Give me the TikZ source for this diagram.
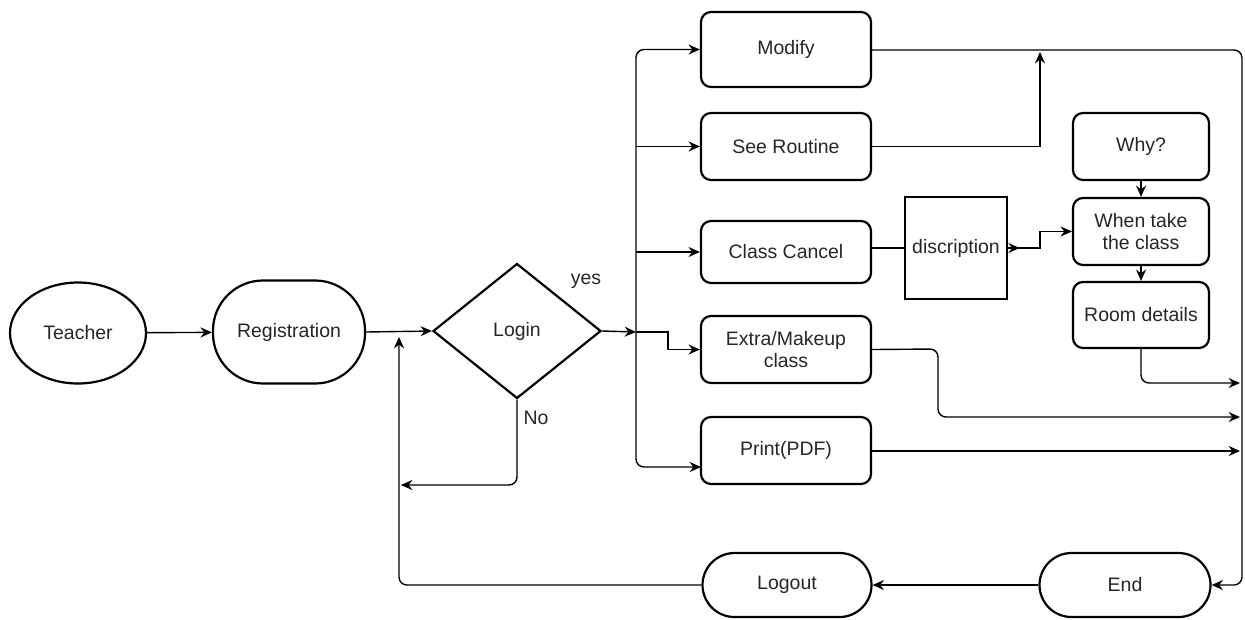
\documentclass[tikz,border=0pt]{standalone}
\usepackage{fontspec}
\setmainfont{Liberation Sans}
\usetikzlibrary{shapes.geometric,arrows.meta,calc}
\begin{document}
\begin{tikzpicture}[x=0.75pt,y=-0.75pt,
  font=\fontsize{14.6pt}{17pt}\selectfont,
  txt/.style={text=black!85},
  box/.style={draw, line width=1.65pt, rounded corners=7.5pt, txt, align=center,
    inner sep=0pt, minimum width=127.5pt},
  stadium/.style={draw, line width=1.65pt, rounded corners=24pt, txt, inner sep=0pt},
  conn/.style={line width=1.05pt},
  arr/.style={conn, -{Stealth[length=8.5pt,width=7.5pt]}},
]
\useasboundingbox (0,0) rectangle (1245,619);

% start and sign-in
\node[draw, ellipse, line width=1.65pt, txt, inner sep=0pt, minimum width=102pt, minimum height=75.75pt] (teacher) at (78,333) {Teacher};
\node[stadium, rounded corners=37.5pt, minimum width=114pt, minimum height=77.25pt] (reg) at (289,332) {Registration};
\node[draw, diamond, line width=1.65pt, txt, inner sep=0pt, minimum width=126pt, minimum height=101.25pt] (login) at (517,331) {Login};

% teacher options
\node[box, minimum height=56.25pt] (modify) at (786,49.5) {Modify};
\node[box, minimum height=50.25pt] (routine) at (786,146.5) {See Routine};
\node[box, minimum height=46.5pt] (cancel) at (786,252) {Class Cancel};
\node[box, minimum height=50.25pt] (extra) at (786,349.5) {Extra/Makeup\\class};
\node[box, minimum height=50.25pt] (print) at (786,450.5) {Print(PDF)};

% class cancel details
\node[draw, line width=1.05pt, txt, inner sep=0pt, minimum width=76.5pt, minimum height=76.5pt] (disc) at (956,248) {discription};
\node[box, minimum width=102pt, minimum height=50.25pt] (why) at (1141,146.5) {Why?};
\node[box, minimum width=102pt, minimum height=50.25pt] (when) at (1141,231.5) {When take\\the class};
\node[box, minimum width=102pt, minimum height=49.5pt] (room) at (1141,315) {Room details};

% finish
\node[stadium, minimum width=126.75pt, minimum height=48pt] (logout) at (787,585) {Logout};
\node[stadium, minimum width=128.25pt, minimum height=48pt] (end) at (1125,585) {End};

% labels
\node[txt] (yes) at (586,281) {yes};
\node[txt] (no) at (536,418) {No};

% junction points
\coordinate (jx) at (399,332);
\coordinate (backin) at (399,337);
\coordinate (noend) at (401,485);
\coordinate (trunk) at (636,332);
\coordinate (xstep) at (668,332);
\coordinate (printin) at (701,467);
\coordinate (merge) at (1040,52);
\coordinate (rtop) at (1242,50);
\coordinate (rbot) at (1242,585);
\coordinate (roomin) at (1240,383);
\coordinate (extrain) at (1240,417);
\coordinate (printout) at (1240,451);
\coordinate (extraturn) at (938,349);

% sign-in flow
\draw[arr] (teacher) -- (reg);
\draw[arr] (reg.east) -- (login.west);
\draw[arr, rounded corners=6pt] (login.south) |- (noend);
\draw[arr, rounded corners=6pt] (logout.west) -| (backin);
\draw[arr] (end.west) -- (logout.east);

% branch to options
\draw[arr] (login.east) -- (trunk);
\draw[arr] (trunk) -- (xstep) |- (extra.west);
\draw[arr, rounded corners=6pt] (trunk) |- (modify.west);
\draw[arr, rounded corners=6pt] (trunk) |- (printin);
\draw[arr] (trunk |- routine.west) -- (routine.west);
\draw[arr] (trunk |- cancel.east) -- (cancel.west);

% options to end
\draw[arr, rounded corners=6pt] (modify.east |- rtop) -- (rtop) -- (rbot) -- (end.east);
\draw[arr] (routine.east) -| (merge);
\draw[conn] (cancel.east |- disc.west) -- (disc.west);
\draw[arr] (disc.east) -- ++(9pt,0);
\draw[arr] (disc.east) -| ($(disc.east)!0.5!(when.west)$) |- (when.west);
\draw[arr] (why) -- (when);
\draw[arr] (when) -- (room);
\draw[arr, rounded corners=6pt] (room.south) |- (roomin);
\draw[arr, rounded corners=6pt] (extra.east) -- (extraturn) -- (extraturn |- extrain) -- (extrain);
\draw[arr] (print.east |- printout) -- (printout);
\end{tikzpicture}
\end{document}
